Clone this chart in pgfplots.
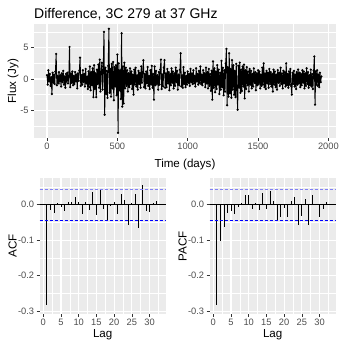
\documentclass[border=0pt]{standalone}
\usepackage{fontspec}
\setmainfont{Liberation Sans}
\usepackage{pgfplots}
\pgfplotsset{compat=1.18}
\definecolor{ggbg}{HTML}{EBEBEB}
\definecolor{ggtick}{HTML}{333333}
\definecolor{ggtext}{HTML}{4D4D4D}
\definecolor{ciup}{HTML}{7F7FF5}
\pgfplotsset{
  ggstyle/.style={
    scale only axis,
    axis background/.style={fill=ggbg},
    axis line style={draw=none},
    tick pos=left,
    tick align=outside,
    major tick length=2.9bp,
    minor tick length=0pt,
    tick style={ggtick, line width=0.55bp},
    xminorgrids=true, yminorgrids=true, xmajorgrids=true, ymajorgrids=true,
    major grid style={white, line width=1.05bp},
    minor grid style={white, line width=0.5bp},
    ticklabel style={font=\fontsize{9.3bp}{11bp}\selectfont, text=ggtext, inner sep=0pt},
    xticklabel style={anchor=north, yshift=-2.3bp},
    yticklabel style={anchor=east, xshift=-2.3bp},
  },
  accstyle/.style={
    ggstyle, anchor=south west, width=126.5bp, height=135.7bp,
    xmin=-1.07, xmax=34.66, ymin=-0.308, ymax=0.0744,
    xtick={0,5,...,30}, xticklabels={0,5,10,15,20,25,30},
    minor xtick={2.5,7.5,...,32.5},
    ytick={-0.3,-0.2,-0.1,0}, yticklabels={-0.3,-0.2,-0.1,0.0},
    minor ytick={-0.25,-0.15,-0.05,0.05},
  }
}
\begin{document}
\begin{tikzpicture}
\useasboundingbox (0,0) rectangle (342bp,348bp);
\begin{axis}[ggstyle, at={(34bp,210.3bp)}, anchor=south west, width=302bp, height=113.4bp,
  xmin=-92.4, xmax=2054, ymin=-9.36, ymax=8.72,
  xtick={0,500,1000,1500,2000}, xticklabels={0,500,1000,1500,2000},
  minor xtick={250,750,1250,1750},
  ytick={-5,0,5}, yticklabels={-5,0,5}, minor ytick={-7.5,-2.5,2.5,7.5}]
\addplot[black, line width=0.9bp, mark=*, mark size=0.6bp] coordinates {
(0,0.6)(5,-0.9)(10,1.4)(15,-0.4)(20,0.8)(25,-1.1)(30,0.3)(35,-2.4)(40,1.0)(45,-0.6)
(50,0.7)(55,-0.8)(60,1.2)(65,4.0)(70,-1.0)(75,0.5)(80,-0.7)(85,1.1)(90,-0.3)(95,0.6)
(100,-1.2)(105,0.9)(110,-0.5)(115,1.3)(120,-0.9)(125,0.4)(130,-1.4)(135,0.8)(140,-0.2)(145,1.0)
(150,-0.7)(155,0.3)(160,5.1)(165,-1.3)(170,0.9)(175,-0.6)(180,1.2)(185,-1.0)(190,0.5)(195,-0.8)
(200,1.1)(205,-0.4)(210,0.7)(215,-1.5)(220,0.9)(225,-0.3)(230,1.3)(235,3.4)(240,-1.1)(245,0.6)
(250,-0.9)(255,1.4)(260,-0.5)(265,0.8)(270,-1.2)(275,1.6)(280,-0.7)(285,0.4)(290,-1.6)(295,1.2)
(300,-1.3)(305,2.0)(310,-1.8)(315,1.1)(320,-1.0)(325,1.7)(330,-2.9)(335,2.2)(340,-1.6)(345,0.9)
(350,-2.9)(355,1.5)(360,-0.8)(365,2.3)(370,-1.4)(375,3.1)(380,-2.0)(385,1.2)(390,2.6)(395,-1.7)
(400,2.0)(405,7.5)(410,-5.7)(415,1.8)(420,-2.4)(425,1.3)(430,-3.0)(435,2.1)(440,8.0)(445,-2.2)
(450,1.6)(455,-2.8)(460,2.4)(465,-1.5)(470,2.7)(475,-3.4)(480,1.9)(485,-1.2)(490,2.2)(495,-2.6)
(500,3.9)(505,-8.6)(510,2.5)(515,-1.8)(520,1.4)(525,-3.2)(530,7.3)(535,-4.4)(540,2.0)(545,-3.9)
(550,2.6)(555,-1.5)(560,1.8)(565,-1.1)(570,1.4)(575,-2.0)(580,0.9)(585,-1.3)(590,1.7)(595,-0.8)
(600,1.2)(605,-1.6)(610,0.7)(615,-2.5)(620,1.5)(625,-0.9)(630,1.8)(635,-1.2)(640,0.6)(645,-1.7)
(650,1.3)(655,-0.8)(660,1.0)(665,-1.4)(670,2.0)(675,-0.6)(680,1.1)(685,3.0)(690,-1.3)(695,0.8)
(700,-1.5)(705,1.2)(710,-0.7)(715,1.9)(720,-1.1)(725,0.5)(730,-1.6)(735,1.4)(740,-0.9)(745,2.1)
(750,-1.4)(755,0.8)(760,-3.3)(765,2.0)(770,-1.0)(775,1.3)(780,-0.8)(785,0.6)(790,-1.7)(795,1.1)
(800,-0.9)(805,1.5)(810,3.1)(815,-1.6)(820,0.7)(825,-1.2)(830,1.8)(835,3.0)(840,-1.4)(845,0.9)
(850,-1.3)(855,1.6)(860,-0.7)(865,1.1)(870,-1.8)(875,0.8)(880,-1.0)(885,1.7)(890,-0.6)(895,1.2)
(900,-1.5)(905,0.9)(910,-1.1)(915,1.8)(920,-0.5)(925,1.3)(930,-1.7)(935,0.7)(940,-1.0)(945,1.5)
(950,4.1)(955,-1.2)(960,0.6)(965,-1.4)(970,1.9)(975,-0.8)(980,1.0)(985,-1.3)(990,0.5)(995,-0.9)
(1000,1.2)(1005,-0.6)(1010,0.8)(1015,-1.1)(1020,1.6)(1025,-0.5)(1030,0.9)(1035,-0.8)(1040,1.4)(1045,-0.7)
(1050,0.5)(1055,-1.2)(1060,1.7)(1065,-0.4)(1070,0.8)(1075,-0.9)(1080,1.3)(1085,-0.6)(1090,2.0)(1095,-0.8)
(1100,0.7)(1105,-1.0)(1110,1.4)(1115,-0.5)(1120,0.9)(1125,-1.3)(1130,1.8)(1135,-0.7)(1140,1.1)(1145,-1.5)
(1150,1.6)(1155,-1.1)(1160,0.8)(1165,-1.9)(1170,1.3)(1175,-3.3)(1180,2.8)(1185,-1.4)(1190,1.7)(1195,-2.1)
(1200,1.2)(1205,-1.6)(1210,2.2)(1215,-0.9)(1220,1.5)(1225,-2.4)(1230,1.0)(1235,-1.7)(1240,2.9)(1245,-1.3)
(1250,1.8)(1255,-2.6)(1260,1.4)(1265,-2.0)(1270,2.5)(1275,4.8)(1280,-4.2)(1285,1.9)(1290,-2.8)(1295,4.1)
(1300,-2.3)(1305,1.6)(1310,-3.0)(1315,3.0)(1320,-1.7)(1325,2.2)(1330,-2.5)(1335,1.3)(1340,-2.9)(1345,2.4)
(1350,-1.8)(1355,-4.9)(1360,2.1)(1365,-1.4)(1370,2.6)(1375,-2.2)(1380,1.5)(1385,-1.9)(1390,2.0)(1395,-1.2)
(1400,2.3)(1405,-3.1)(1410,1.4)(1415,-1.6)(1420,1.9)(1425,-1.0)(1430,1.2)(1435,-2.0)(1440,1.6)(1445,-0.9)
(1450,1.3)(1455,-1.5)(1460,0.8)(1465,-1.2)(1470,1.7)(1475,-0.6)(1480,1.1)(1485,-1.8)(1490,0.9)(1495,-1.0)
(1500,1.4)(1505,-0.8)(1510,1.2)(1515,-1.5)(1520,0.7)(1525,-1.1)(1530,1.8)(1535,-0.9)(1540,2.5)(1545,-1.3)
(1550,0.9)(1555,-1.6)(1560,1.3)(1565,-0.7)(1570,1.0)(1575,-1.4)(1580,1.6)(1585,-0.8)(1590,1.1)(1595,-1.2)
(1600,0.8)(1605,-2.0)(1610,1.5)(1615,-0.9)(1620,1.2)(1625,-1.3)(1630,0.7)(1635,-1.7)(1640,1.4)(1645,-0.6)
(1650,1.0)(1655,-1.1)(1660,1.8)(1665,-0.8)(1670,0.9)(1675,-1.5)(1680,1.3)(1685,-0.7)(1690,1.1)(1695,-1.2)
(1700,2.5)(1705,-1.0)(1710,0.8)(1715,-1.4)(1720,1.2)(1725,-0.9)(1730,1.6)(1735,-1.1)(1740,-2.5)(1745,1.0)
(1750,-0.8)(1755,1.3)(1760,-1.2)(1765,0.7)(1770,-1.6)(1775,1.1)(1780,-0.9)(1785,1.5)(1790,-0.7)(1795,1.0)
(1800,-1.3)(1805,0.8)(1810,-1.0)(1815,1.4)(1820,-0.6)(1825,1.2)(1830,-1.5)(1835,0.9)(1840,-1.1)(1845,1.7)
(1850,-0.8)(1855,1.1)(1860,-1.4)(1865,0.6)(1870,-1.0)(1875,1.5)(1880,-1.2)(1885,0.8)(1890,-1.6)(1895,1.3)
(1900,3.6)(1905,-4.1)(1910,1.2)(1915,-0.9)(1920,1.4)(1925,-1.1)(1930,0.7)(1935,-1.3)(1940,1.0)(1945,-0.5)
(1950,0.4)
};
\end{axis}
\begin{axis}[accstyle, at={(39.5bp,34bp)}]
\addplot[black, line width=0.7bp] coordinates {(-1.07,0)(34.66,0)};
\addplot[ycomb, black, line width=0.8bp, no markers] coordinates {
(1,-0.283)(2,-0.015)(3,-0.022)(4,0.004)(5,-0.006)(6,-0.017)(7,0.007)(8,0.007)(9,0.023)(10,0.007)
(11,-0.027)(12,0.008)(13,-0.015)(14,0.037)(15,-0.030)(16,0.043)(17,-0.011)(18,-0.045)(19,-0.003)(20,0.007)
(21,-0.027)(22,0.031)(23,0.012)(24,-0.056)(25,0.005)(26,0.031)(27,-0.065)(28,0.056)(29,-0.019)(30,-0.021)
(31,0.005)(32,0.011)(33,0.002)};
\addplot[ciup, line width=0.6bp, dash pattern=on 3bp off 2bp] coordinates {(-1.07,0.0444)(34.66,0.0444)};
\addplot[blue, line width=0.8bp, dash pattern=on 3bp off 2bp] coordinates {(-1.07,-0.0444)(34.66,-0.0444)};
\end{axis}
\begin{axis}[accstyle, at={(209.5bp,34bp)}]
\addplot[black, line width=0.7bp] coordinates {(-1.07,0)(34.66,0)};
\addplot[ycomb, black, line width=0.8bp, no markers] coordinates {
(1,-0.283)(2,-0.102)(3,-0.062)(4,-0.024)(5,-0.017)(6,-0.026)(7,-0.007)(8,0.005)(9,0.028)(10,0.028)
(11,-0.011)(12,0.004)(13,-0.015)(14,0.034)(15,-0.011)(16,0.038)(17,0.010)(18,-0.043)(19,-0.034)(20,-0.010)
(21,-0.036)(22,0.011)(23,0.021)(24,-0.057)(25,-0.031)(26,0.017)(27,-0.056)(28,0.027)(29,0.001)(30,-0.034)
(31,-0.012)(32,0.008)(33,0.003)};
\addplot[ciup, line width=0.6bp, dash pattern=on 3bp off 2bp] coordinates {(-1.07,0.0444)(34.66,0.0444)};
\addplot[blue, line width=0.8bp, dash pattern=on 3bp off 2bp] coordinates {(-1.07,-0.0444)(34.66,-0.0444)};
\end{axis}
\node[anchor=base west, inner sep=0pt, font=\fontsize{14bp}{16bp}\selectfont] at (34bp,329.7bp) {Difference, 3C 279 at 37 GHz};
\node[anchor=base, inner sep=0pt, font=\fontsize{11.6bp}{13bp}\selectfont] at (185bp,180.7bp) {Time (days)};
\node[anchor=base, rotate=90, inner sep=0pt, font=\fontsize{11.6bp}{13bp}\selectfont] at (16bp,267bp) {Flux (Jy)};
\node[anchor=base, rotate=90, inner sep=0pt, font=\fontsize{11.6bp}{13bp}\selectfont] at (16.5bp,102bp) {ACF};
\node[anchor=base, rotate=90, inner sep=0pt, font=\fontsize{11.6bp}{13bp}\selectfont] at (186.5bp,102bp) {PACF};
\node[anchor=base, inner sep=0pt, font=\fontsize{11.6bp}{13bp}\selectfont] at (102.7bp,10.5bp) {Lag};
\node[anchor=base, inner sep=0pt, font=\fontsize{11.6bp}{13bp}\selectfont] at (272.7bp,10.5bp) {Lag};
\end{tikzpicture}
\end{document}
